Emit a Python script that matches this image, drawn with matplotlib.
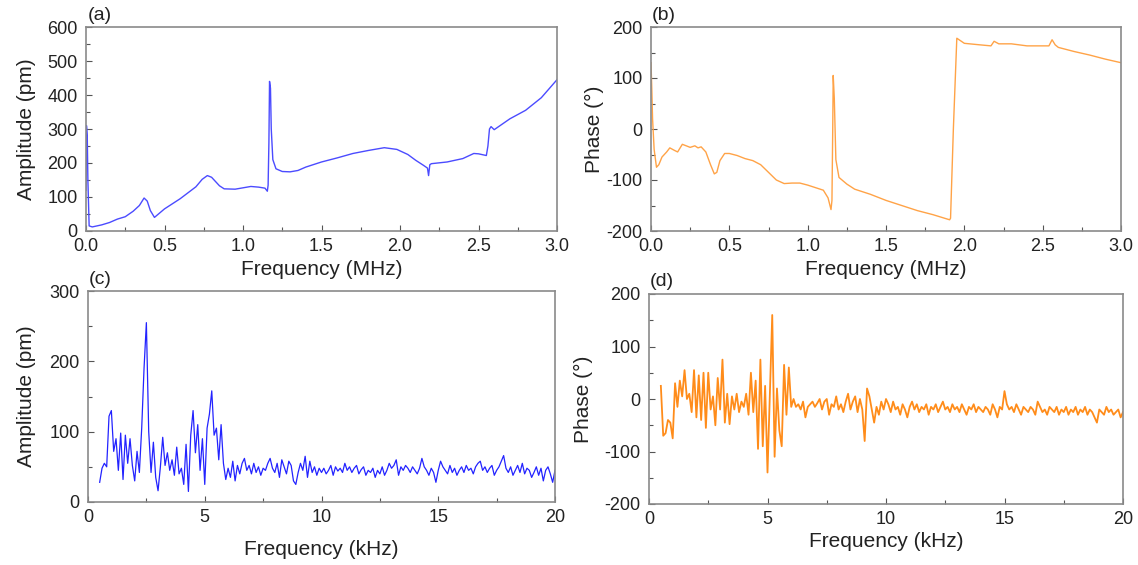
import numpy as np
import matplotlib.pyplot as plt
from matplotlib.ticker import MultipleLocator

plt.rcParams['font.family'] = ['Liberation Sans', 'DejaVu Sans']
plt.rcParams['axes.unicode_minus'] = False

# (a) amplitude vs frequency, MHz
freq_a = [0.0, 0.003, 0.008, 0.012, 0.02, 0.04, 0.06, 0.1, 0.15, 0.2, 0.25, 0.3, 0.34, 0.37,
          0.39, 0.41, 0.436, 0.5, 0.6, 0.7, 0.74, 0.773, 0.8, 0.85, 0.88, 0.95, 1.0, 1.05,
          1.1, 1.14, 1.155, 1.16, 1.165, 1.169, 1.175, 1.18, 1.19, 1.21, 1.25, 1.3, 1.35,
          1.4, 1.5, 1.6, 1.7, 1.8, 1.9, 1.98, 2.05, 2.1, 2.15, 2.175, 2.182, 2.19, 2.2, 2.3,
          2.4, 2.47, 2.5, 2.55, 2.56, 2.57, 2.58, 2.6, 2.7, 2.8, 2.9, 3.0]
amp_a = [120, 310, 280, 150, 15, 12, 14, 18, 25, 35, 42, 58, 75, 97,
         88, 60, 40, 65, 95, 130, 152, 163, 158, 133, 124, 123, 127, 131,
         129, 126, 117, 135, 260, 440, 420, 300, 210, 183, 175, 174, 178,
         188, 203, 215, 228, 237, 245, 240, 225, 208, 193, 185, 163, 195, 198, 203,
         213, 228, 227, 222, 250, 300, 307, 298, 330, 355, 392, 445]

# (b) phase vs frequency, MHz
freq_b = [0.0, 0.005, 0.01, 0.02, 0.035, 0.05, 0.07, 0.1, 0.12, 0.15, 0.17, 0.2, 0.25, 0.28,
          0.3, 0.32, 0.35, 0.38, 0.404, 0.42, 0.44, 0.47, 0.5, 0.55, 0.6, 0.65, 0.7, 0.75,
          0.8, 0.85, 0.9, 0.95, 1.0, 1.05, 1.1, 1.13, 1.149, 1.155, 1.16, 1.163, 1.17, 1.18,
          1.2, 1.25, 1.3, 1.4, 1.5, 1.6, 1.7, 1.8, 1.906, 1.912, 1.93, 1.952, 2.0, 2.1, 2.17,
          2.19, 2.22, 2.3, 2.4, 2.5, 2.54, 2.56, 2.58, 2.6, 2.7, 2.8, 2.9, 3.0]
phase_b = [130, 80, 20, -40, -75, -70, -55, -45, -37, -42, -45, -30, -36, -33,
           -37, -35, -45, -70, -88, -85, -62, -48, -48, -52, -58, -62, -70, -85,
           -100, -107, -106, -106, -110, -115, -120, -135, -158, -140, 0, 105, 60, -60,
           -95, -108, -118, -128, -140, -150, -160, -168, -178, -175, 0, 178, 168, 165, 163,
           172, 167, 167, 163, 163, 163, 175, 165, 160, 152, 145, 137, 130]

# (c) amplitude vs frequency, kHz (0.5 ... 20.0 in 0.1 steps)
amp_c = [28, 48, 55, 50, 122, 130, 72, 90, 45, 98,
         32, 95, 55, 90, 52, 30, 72, 42, 105, 190,
         255, 100, 42, 85, 35, 16, 50, 92, 52, 70,
         45, 60, 38, 78, 40, 48, 25, 82, 15, 95,
         130, 70, 110, 45, 90, 25, 105, 125, 158, 95,
         105, 60, 110, 55, 32,
         48, 35, 58, 30, 52, 40, 55, 62, 45, 52,
         40, 55, 42, 50, 38, 48, 45, 55, 62, 48,
         42, 55, 35, 60, 50, 40, 58, 52, 30, 25,
         42, 55, 45, 65, 35, 58, 42, 50, 38, 48,
         42,
         48, 40, 45, 52, 38, 50, 44, 48, 42, 55,
         45, 50, 42, 48, 52, 40, 46, 50, 38, 45,
         42, 48, 35, 45, 40, 50, 38, 45, 55, 48,
         52, 60, 38, 50, 45, 52, 48, 42, 50, 45,
         40, 48, 62, 50, 45, 38, 48, 42, 28, 45,
         58, 50, 45, 40, 52, 42, 48, 38, 45, 50,
         42, 52, 45, 48, 40, 50, 55, 58, 45, 50,
         42, 48, 52, 38, 45, 50, 58, 66, 48, 42,
         50, 38, 45, 52, 42, 55, 40, 48, 45, 35,
         42, 50, 38, 48, 30, 45, 50, 40, 28, 45]

# (d) phase vs frequency, kHz (0.5 ... 20.0 in 0.1 steps)
phase_d = [25, -70, -65, -40, -45, -75, 30, -15, 35, 5,
           55, 0, 10, -25, 55, -35, 45, -40, 50, -55,
           50, -20, 5, -50, 40, -20, 75, -45, 10, -48,
           5, -20, 10, -25, -5, -15, 10, -30, 50, -25,
           35, -95, 75, -90, 25, -140, 10, 160, -110, 20,
           -60, -90, 65, -30, 60,
           -15, 0, -15, -10, -20, -5, -35, -15, -10, -5,
           -15, -8, 0, -20, -5, 0, -30, -10, -15, 5,
           -20, -10, -25, -5, 10, -20, -5, 5, -25, 0,
           -20, -80, 20, 5, -20, -45, -15, -30, -5, -20,
           0,
           -10, -25, -5, -20, -15, -30, -10, -20, -35, -15,
           -5, -20, -10, -25, -15, -20, -10, -30, -15, -20,
           -10, -25, -15, -5, -20, -15, -25, -10, -20, -15,
           -25, -10, -20, -30, -15, -20, -10, -25, -15, -20,
           -25, -15, -20, -30, -10, -20, -35, -15, -20, 15,
           -10, -20, -15, -25, -10, -20, -30, -15, -20, -25,
           -15, -20, -30, -5, -15, -25, -20, -30, -15, -20,
           -25, -15, -30, -20, -25, -15, -30, -20, -25, -15,
           -30, -20, -25, -15, -30, -20, -25, -35, -45, -20,
           -25, -30, -15, -25, -20, -30, -25, -20, -35, -25]

freq_c = 0.5 + 0.1 * np.arange(len(amp_c))
freq_d = 0.5 + 0.1 * np.arange(len(phase_d))

W, H = 1138, 565
fig = plt.figure(figsize=(W / 100, H / 100), dpi=100)


def box(l, t, r, b):
    return [l / W, 1 - b / H, (r - l) / W, (b - t) / H]


def style(ax, xmaj, ymaj):
    for s in ax.spines.values():
        s.set_color('#8a8a8a')
        s.set_linewidth(1.2)
    ax.xaxis.set_major_locator(MultipleLocator(xmaj))
    ax.xaxis.set_minor_locator(MultipleLocator(xmaj / 2))
    ax.yaxis.set_major_locator(MultipleLocator(ymaj))
    ax.yaxis.set_minor_locator(MultipleLocator(ymaj / 2))
    ax.tick_params(which='both', direction='in', color='#555555', labelsize=13,
                   labelcolor='#222222', top=False, right=False)
    ax.tick_params(axis='x', which='major', length=4, width=0.8, pad=5)
    ax.tick_params(axis='y', which='major', length=4, width=0.8, pad=6)
    ax.tick_params(which='minor', length=3, width=0.8)


ax_a = fig.add_axes(box(86, 27, 557, 231))
ax_a.plot(freq_a, amp_a, color='#4b4bff', lw=1.0)
ax_a.set_xlim(0, 3.0)
ax_a.set_ylim(0, 600)
style(ax_a, 0.5, 100)
ax_a.xaxis.set_major_formatter(plt.FormatStrFormatter('%.1f'))
ax_a.set_xlabel('Frequency (MHz)', fontsize=15, color='#222222', labelpad=4)
ax_a.set_ylabel('Amplitude (pm)', fontsize=15, color='#222222', labelpad=8)
fig.text(88 / W, 1 - 15 / H, '(a)', fontsize=14, color='#222222', va='center')

ax_b = fig.add_axes(box(651, 27, 1121, 231))
ax_b.plot(freq_b, phase_b, color='#ffa347', lw=1.0)
ax_b.set_xlim(0, 3.0)
ax_b.set_ylim(-200, 200)
style(ax_b, 0.5, 100)
ax_b.xaxis.set_major_formatter(plt.FormatStrFormatter('%.1f'))
ax_b.set_xlabel('Frequency (MHz)', fontsize=15, color='#222222', labelpad=4)
ax_b.set_ylabel('Phase (°)', fontsize=15, color='#222222', labelpad=2)
fig.text(652 / W, 1 - 15 / H, '(b)', fontsize=14, color='#222222', va='center')

ax_c = fig.add_axes(box(88, 291, 555, 502))
ax_c.plot(freq_c, amp_c, color='#2323ff', lw=0.9)
ax_c.set_xlim(0, 20)
ax_c.set_ylim(0, 300)
style(ax_c, 5, 100)
ax_c.set_xlabel('Frequency (kHz)', fontsize=15, color='#222222', labelpad=10)
ax_c.set_ylabel('Amplitude (pm)', fontsize=15, color='#222222', labelpad=10)
fig.text(89 / W, 1 - 280 / H, '(c)', fontsize=14, color='#222222', va='center')

ax_d = fig.add_axes(box(649, 294, 1123, 504))
ax_d.plot(freq_d, phase_d, color='#ff8c1a', lw=1.3)
ax_d.set_xlim(0, 20)
ax_d.set_ylim(-200, 200)
style(ax_d, 5, 100)
ax_d.set_xlabel('Frequency (kHz)', fontsize=15, color='#222222', labelpad=3)
ax_d.set_ylabel('Phase (°)', fontsize=15, color='#222222', labelpad=8)
fig.text(650 / W, 1 - 282 / H, '(d)', fontsize=14, color='#222222', va='center')

fig.savefig('out.png', dpi=100)
